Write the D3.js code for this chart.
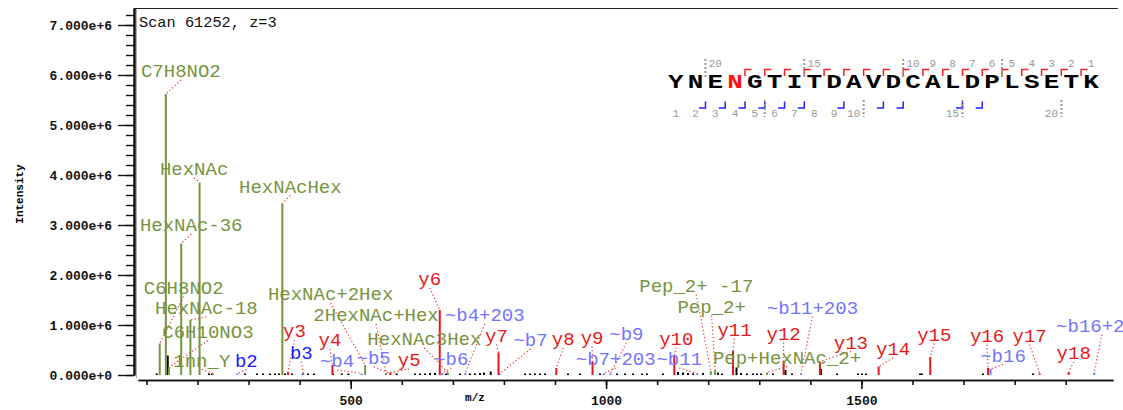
<!DOCTYPE html>
<html>
<head>
<meta charset="utf-8">
<script src="https://cdn.jsdelivr.net/npm/d3@7"></script>
<style>
  body { margin: 0; background: #fff; }
  svg { display: block; }
  text { font-family: "Liberation Mono", "DejaVu Sans Mono", monospace; }
</style>
</head>
<body>
<svg id="chart" width="1123" height="410"></svg>
<script>
// ---- spectrum data (m/z, intensity) ----
const scanTitle = "Scan 61252, z=3";
const peptide = "YNENGTITDAVDCALDPLSETK";
const glycoSite = 3;

// glycan / oxonium and precursor-related ions
const glycanIons = [
  { label: "C6H8NO2",       mz: 126.05,  inten: 0.63e6 },
  { label: "C7H8NO2",       mz: 138.05,  inten: 5.62e6 },
  { label: "C6H10NO3",      mz: 144.07,  inten: 0.15e6 },
  { label: "HexNAc-36",     mz: 168.07,  inten: 2.63e6 },
  { label: "HexNAc-18",     mz: 186.08,  inten: 1.10e6 },
  { label: "HexNAc",        mz: 204.09,  inten: 3.85e6 },
  { label: "1nn_Y",         mz: 230.0,   inten: 0.03e6 },
  { label: "HexNAcHex",     mz: 366.14,  inten: 3.43e6 },
  { label: "HexNAc+2Hex",   mz: 528.19,  inten: 0.20e6 },
  { label: "2HexNAc+Hex",   mz: 569.22,  inten: 0.04e6 },
  { label: "HexNAc3Hex",    mz: 690.24,  inten: 0.05e6 },
  { label: "Pep_2+ -17",    mz: 1205.04, inten: 0.08e6 },
  { label: "Pep_2+",        mz: 1213.56, inten: 0.10e6 },
  { label: "Pep+HexNAc_2+", mz: 1315.10, inten: 0.05e6 }
];

// y fragment ions
const yIons = [
  { label: "y3",  mz: 377.20,  inten: 0.06e6 },
  { label: "y4",  mz: 464.24,  inten: 0.20e6 },
  { label: "y5",  mz: 577.32,  inten: 0.05e6 },
  { label: "y6",  mz: 674.37,  inten: 1.30e6 },
  { label: "y7",  mz: 789.40,  inten: 0.45e6 },
  { label: "y8",  mz: 902.48,  inten: 0.14e6 },
  { label: "y9",  mz: 973.52,  inten: 0.27e6 },
  { label: "y10", mz: 1133.55, inten: 0.38e6 },
  { label: "y11", mz: 1248.58, inten: 0.49e6 },
  { label: "y12", mz: 1347.65, inten: 0.28e6 },
  { label: "y13", mz: 1418.68, inten: 0.27e6 },
  { label: "y14", mz: 1533.71, inten: 0.17e6 },
  { label: "y15", mz: 1634.76, inten: 0.36e6 },
  { label: "y16", mz: 1747.84, inten: 0.14e6 },
  { label: "y17", mz: 1848.89, inten: 0.03e6 },
  { label: "y18", mz: 1905.91, inten: 0.06e6 }
];

// b fragment ions ("~" = carrying the glycan remnant)
const bIons = [
  { label: "b2",       mz: 278.11,  inten: 0.03e6, plain: true },
  { label: "b3",       mz: 407.15,  inten: 0.04e6, plain: true },
  { label: "~b4",      mz: 521.20,  inten: 0.03e6 },
  { label: "~b5",      mz: 578.22,  inten: 0.03e6 },
  { label: "~b6",      mz: 679.27,  inten: 0.04e6 },
  { label: "~b4+203",  mz: 724.28,  inten: 0.04e6 },
  { label: "~b7",      mz: 792.35,  inten: 0.03e6 },
  { label: "~b7+203",  mz: 995.43,  inten: 0.03e6 },
  { label: "~b9",      mz: 1008.43, inten: 0.03e6 },
  { label: "~b11",     mz: 1178.53, inten: 0.03e6 },
  { label: "~b11+203", mz: 1381.60, inten: 0.03e6 },
  { label: "~b16",     mz: 1752.74, inten: 0.12e6 },
  { label: "~b16+203", mz: 1955.82, inten: 0.05e6 }
];

// unassigned peaks
const otherMz = [120.1, 141.7, 222.5, 228.4, 293.0, 316.5, 328.3, 342.0, 351.8, 359.6,
  371.3, 385.0, 406.0, 416.4, 428.1, 465.3, 482.4, 495.3, 590.0, 625.9, 635.7, 645.5,
  655.3, 665.1, 686.6, 714.0, 733.6, 743.4, 753.2, 761.0, 774.1, 841.3, 851.1, 860.9,
  870.6, 880.4, 925.5, 949.0, 988.1, 1021.4, 1037.1, 1052.7, 1070.4, 1080.2, 1111.5,
  1140.9, 1150.7, 1160.5, 1170.3, 1189.9, 1219.3, 1227.1, 1255.4, 1264.2, 1276.0,
  1287.7, 1295.5, 1303.4, 1326.9, 1351.3, 1364.0, 1421.0, 1452.2, 1493.3, 1501.1,
  1508.9, 1614.6, 1618.5, 1738.0, 1835.9];
const otherInten = [0.03e6, 0.39e6, 0.03e6, 0.03e6, 0.03e6, 0.03e6, 0.03e6, 0.03e6, 0.03e6, 0.03e6,
  0.03e6, 0.03e6, 0.03e6, 0.03e6, 0.03e6, 0.03e6, 0.03e6, 0.03e6, 0.03e6, 0.03e6, 0.03e6, 0.03e6,
  0.04e6, 0.04e6, 0.03e6, 0.03e6, 0.03e6, 0.03e6, 0.04e6, 0.05e6, 0.07e6, 0.03e6, 0.03e6, 0.03e6,
  0.03e6, 0.03e6, 0.03e6, 0.03e6, 0.03e6, 0.03e6, 0.03e6, 0.03e6, 0.03e6, 0.03e6, 0.03e6,
  0.06e6, 0.05e6, 0.04e6, 0.03e6, 0.04e6, 0.05e6, 0.03e6, 0.15e6, 0.04e6, 0.03e6,
  0.03e6, 0.03e6, 0.03e6, 0.03e6, 0.10e6, 0.03e6, 0.12e6, 0.03e6, 0.03e6, 0.03e6,
  0.03e6, 0.03e6, 0.03e6, 0.03e6, 0.03e6];

// observed fragment coverage on the sequence
const yCoverage = d3.range(1, 19);
const bCoverage = [2, 3, 4, 5, 6, 7, 9, 11, 12, 15, 16];

// axis ticks
const yMajorTicks = [0, 1e6, 2e6, 3e6, 4e6, 5e6, 6e6, 7e6];
const xMajorTicks = [500, 1000, 1500];

// ---- label placement: offset of label centre/baseline from the peak top (px) ----
const labelOffset = {
  "C6H8NO2": [24, -50], "C7H8NO2": [15, -17], "C6H10NO3": [39, -30],
  "HexNAc-36": [10, -12.5], "HexNAc-18": [16, -6], "HexNAc": [-5.5, -7.5],
  "1nn_Y": [-11, -7], "HexNAcHex": [8, -11], "HexNAc+2Hex": [-34.5, -65],
  "2HexNAc+Hex": [-10, -52], "HexNAc3Hex": [-23.5, -27.5],
  "Pep_2+ -17": [-14.5, -79.5], "Pep_2+": [-3.5, -57.5], "Pep+HexNAc_2+": [20, -9],
  "y3": [6.5, -35], "y4": [-2.5, -19], "y5": [19, -6.5], "y6": [-10, -25],
  "y7": [-2, -11], "y8": [7, -23], "y9": [-0.5, -18], "y10": [2, -11.5],
  "y11": [1.5, -14.5], "y12": [0, -21.5], "y13": [31, -13], "y14": [14.5, -11.5],
  "y15": [4, -16.5], "y16": [-1, -26.5], "y17": [-10, -32], "y18": [5, -13],
  "b2": [9, -7], "b3": [-2, -14.5], "~b4": [-24.5, -6.5], "~b5": [-17, -9.5],
  "~b6": [9, -8], "~b4+203": [19.5, -52], "~b7": [30.5, -27.5], "~b7+203": [12, -8.5],
  "~b9": [16, -33.5], "~b11": [-18, -8.5], "~b11+203": [11.5, -60], "~b16": [12.5, -7.5],
  "~b16+203": [7.5, -41]
};

const colors = {
  glycan: "#789440", y: "#e81818", b: "#1a1aff", bMod: "#7474ff",
  other: "#000", leader: "#f03030", seqNum: "#9a9a9a"
};

// ---- scales ----
const svg = d3.select("#chart");
const x = d3.scaleLinear().domain([83.5, 1992.6]).range([138, 1113]);
const y = d3.scaleLinear().domain([0, 7.34e6]).range([375, 8]);

// ---- frame ----
svg.append("line").attr("x1", 134).attr("x2", 1118).attr("y1", 8.5).attr("y2", 8.5)
  .attr("stroke", "#222").attr("stroke-width", 1);
svg.append("line").attr("x1", 136.5).attr("x2", 136.5).attr("y1", 9).attr("y2", 378)
  .attr("stroke", "#b0b0b0").attr("stroke-width", 1);

svg.append("text").attr("x", 139).attr("y", 27).attr("font-size", 15.3)
  .attr("fill", "#111").text(scanTitle);

// ---- y axis ----
const yMinor = svg.append("g").attr("transform", "translate(134,0)")
  .call(d3.axisLeft(y).tickValues(d3.range(0, 37).map(i => i * 2e5))
    .tickSize(8).tickSizeOuter(0).tickFormat(""));
const yMajor = svg.append("g").attr("transform", "translate(134,0)")
  .call(d3.axisLeft(y).tickValues(yMajorTicks).tickSize(16).tickSizeOuter(0)
    .tickPadding(6).tickFormat(d3.format(".3e")));
[yMinor, yMajor].forEach(g => {
  g.select(".domain").attr("stroke", "#111").attr("stroke-width", 2);
  g.selectAll(".tick line").attr("stroke", "#111").attr("stroke-width", 1.4);
  g.selectAll(".tick text").attr("font-family", "Liberation Mono").attr("font-size", 13)
    .attr("font-weight", "bold").attr("fill", "#111");
});

svg.append("text").attr("transform", "translate(23,194) rotate(-90)")
  .attr("text-anchor", "middle").attr("font-size", 11).attr("font-weight", "bold")
  .text("Intensity");

// ---- x axis ----
const xMinor = svg.append("g").attr("transform", "translate(0,380)")
  .call(d3.axisBottom(x).tickValues(d3.range(1, 20).map(i => i * 100))
    .tickSize(5).tickSizeOuter(0).tickFormat(""));
const xMajor = svg.append("g").attr("transform", "translate(0,380)")
  .call(d3.axisBottom(x).tickValues(xMajorTicks).tickSize(9).tickSizeOuter(0)
    .tickPadding(7).tickFormat(d3.format("d")));
[xMinor, xMajor].forEach(g => {
  g.select(".domain").attr("stroke", "#111").attr("stroke-width", 1.6);
  g.selectAll(".tick line").attr("stroke", "#111").attr("stroke-width", 1.6);
  g.selectAll(".tick text").attr("font-family", "Liberation Mono").attr("font-size", 13)
    .attr("font-weight", "bold").attr("fill", "#111");
});
svg.append("text").attr("x", 475).attr("y", 401).attr("text-anchor", "middle")
  .attr("font-size", 11).attr("font-weight", "bold").text("m/z");

// ---- peaks ----
const peaks = svg.append("g");
const unassigned = otherMz.map((mz, i) => ({ mz, inten: otherInten[i] }));
function stick(data, color, width) {
  peaks.selectAll(null).data(data).join("line")
    .attr("x1", d => x(d.mz)).attr("x2", d => x(d.mz))
    .attr("y1", y(0)).attr("y2", d => y(d.inten))
    .attr("stroke", color).attr("stroke-width", width);
}
stick(unassigned, colors.other, 2);
stick(glycanIons, colors.glycan, 2);
stick(bIons, colors.bMod, 2);
stick(yIons, colors.y, 2);

// ---- peak labels with dotted leaders ----
const labelled = [
  ...glycanIons.map(d => ({ ...d, color: colors.glycan })),
  ...yIons.map(d => ({ ...d, color: colors.y })),
  ...bIons.map(d => ({ ...d, color: d.plain ? colors.b : colors.bMod }))
];
const ann = svg.append("g");
labelled.forEach(d => {
  const [dx, dy] = labelOffset[d.label];
  const px = x(d.mz), py = y(d.inten);
  ann.append("line")
    .attr("x1", px + dx).attr("y1", py + dy + 3)
    .attr("x2", px).attr("y2", py)
    .attr("stroke", colors.leader).attr("stroke-width", 1.2)
    .attr("stroke-dasharray", "1.2,2.4");
});
labelled.forEach(d => {
  const [dx, dy] = labelOffset[d.label];
  ann.append("text")
    .attr("x", x(d.mz) + dx).attr("y", y(d.inten) + dy)
    .attr("text-anchor", "middle").attr("font-size", 19)
    .attr("fill", d.color).text(d.label);
});

// ---- sequence coverage map ----
const seq = svg.append("g");
const sx = d3.scalePoint().domain(d3.range(peptide.length)).range([675.8, 1091]);
const half = sx.step() / 2;
const cut = k => sx(k) + half;   // cleavage between residue k and k+1

peptide.split("").forEach((aa, i) => {
  seq.append("text")
    .attr("transform", `translate(${sx(i)},87.5) scale(1.3,1)`)
    .attr("text-anchor", "middle").attr("font-size", 20).attr("font-weight", "bold")
    .attr("fill", i === glycoSite ? "#ff1010" : "#000").text(aa);
});

yCoverage.forEach(n => {
  const c = cut(peptide.length - 1 - n);
  seq.append("path").attr("d", `M${c},76 V69.5 H${c + 6.5}`)
    .attr("fill", "none").attr("stroke", "#ff2020").attr("stroke-width", 1.5);
});
bCoverage.forEach(n => {
  const c = cut(n - 1);
  seq.append("path").attr("d", `M${c - 6.5},108 H${c} V101.5`)
    .attr("fill", "none").attr("stroke", "#2020ff").attr("stroke-width", 1.5);
});

const shownNumbers = d3.range(1, peptide.length - 1).filter(n => n <= 10 || n % 5 === 0);
shownNumbers.forEach(n => {
  seq.append("text").attr("x", sx(peptide.length - n)).attr("y", 66.5)
    .attr("text-anchor", "middle").attr("font-size", 11).attr("fill", colors.seqNum).text(n);
  seq.append("text").attr("x", sx(n - 1)).attr("y", 116.5)
    .attr("text-anchor", "middle").attr("font-size", 11).attr("fill", colors.seqNum).text(n);
});
[5, 10, 15, 20].forEach(n => {
  const ca = cut(peptide.length - 1 - n);
  seq.append("line").attr("x1", ca).attr("x2", ca).attr("y1", 59).attr("y2", 78)
    .attr("stroke", colors.seqNum).attr("stroke-width", 2).attr("stroke-dasharray", "2,2");
  const cb = cut(n - 1);
  seq.append("line").attr("x1", cb).attr("x2", cb).attr("y1", 100).attr("y2", 117)
    .attr("stroke", colors.seqNum).attr("stroke-width", 2).attr("stroke-dasharray", "2,2");
});
</script>
</body>
</html>
